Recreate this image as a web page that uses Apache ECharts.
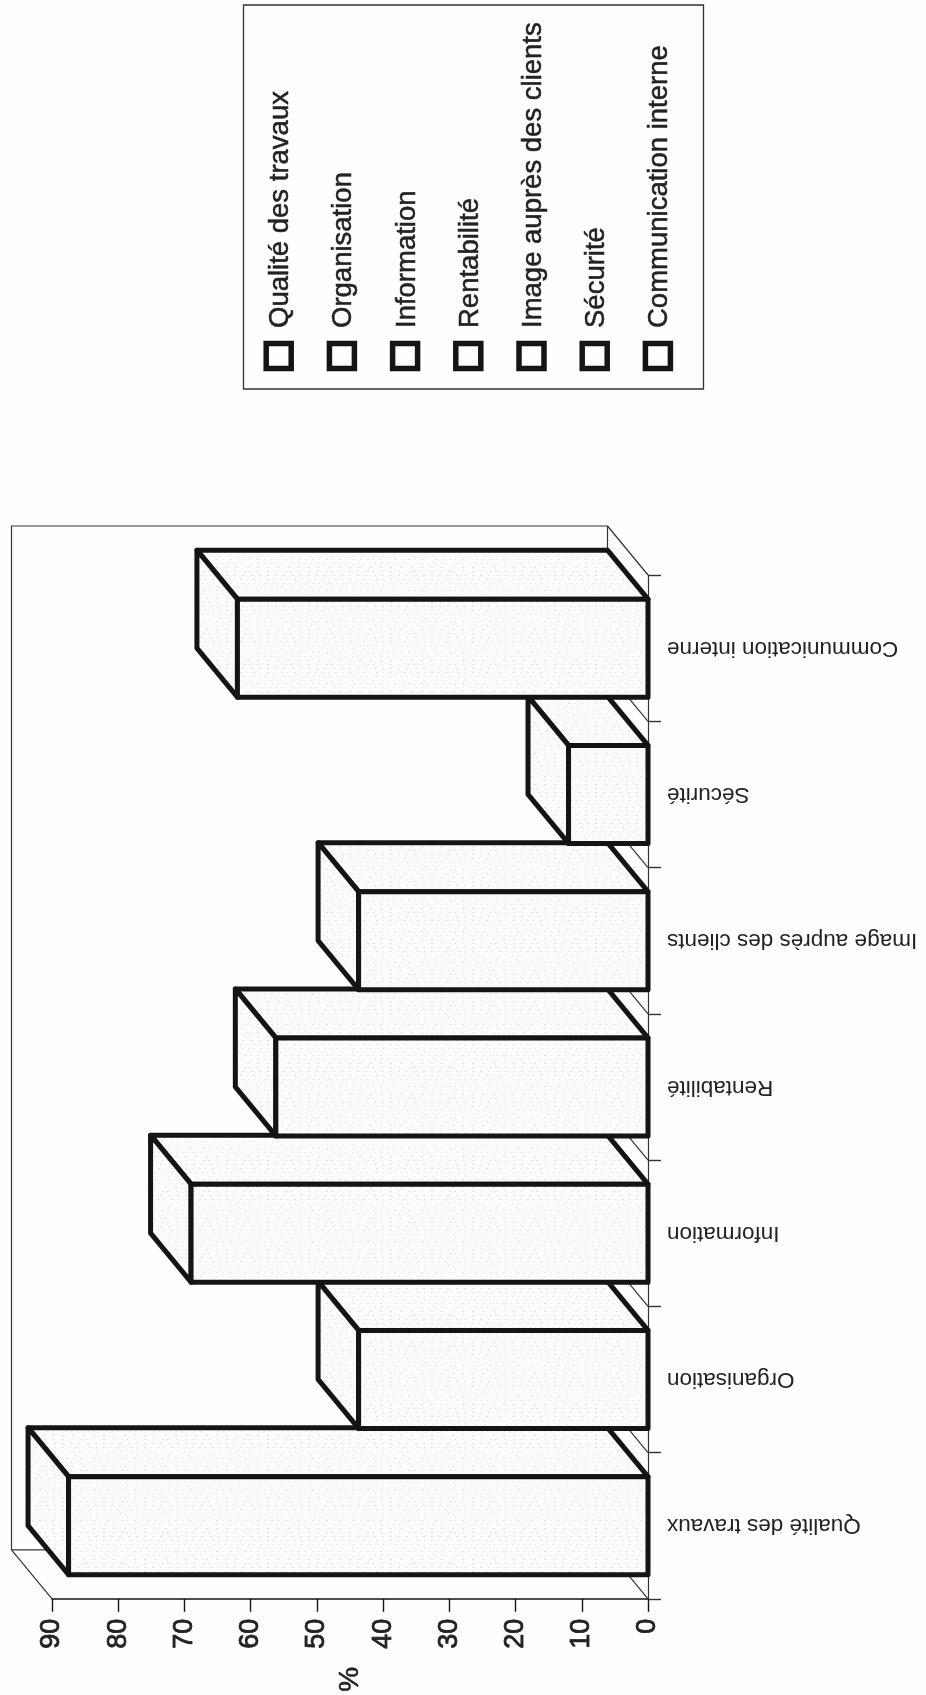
<!DOCTYPE html>
<html><head><meta charset="utf-8">
<style>html,body{margin:0;padding:0;background:#fefefe}#c{width:926px;height:1695px}</style>
<script src="https://cdn.jsdelivr.net/npm/echarts@6/dist/echarts.min.js"></script>
</head><body><div id="c"></div>
<script>
const categories = ['Qualité des travaux','Organisation','Information','Rentabilité','Image auprès des clients','Sécurité','Communication interne'];
const values = [87.5, 43.7, 69, 56.2, 43.7, 12, 62];
const valueMax = 90, valueStep = 10;
const axisName = '%';

const INK = '#141414', THIN = '#333333';
const DX = -40.5, DY = -49;
const FONT = '"Liberation Sans", Arial, sans-serif';

// faint scanned-paper speckle used as the bar fill
function speckle() {
  const W = 41, H = 31;
  const t = document.createElement('canvas'); t.width = W; t.height = H;
  const g = t.getContext('2d');
  g.fillStyle = '#fbfbfb'; g.fillRect(0, 0, W, H);
  g.fillStyle = '#e2e2e2';
  for (let y = 1; y < H; y += 4) for (let x = (y * 11) % 7; x < W; x += 6 + (y % 5)) g.fillRect(x, y, 1 + (x % 2), 1);
  return { image: t, repeat: 'repeat' };
}
const barFill = speckle();

function poly(points, fill, lw, color) {
  return { type: 'polygon', shape: { points }, style: { fill, stroke: color, lineWidth: lw, lineJoin: 'round' } };
}
function seg(a, b) {
  return { type: 'line', shape: { x1: a[0], y1: a[1], x2: b[0], y2: b[1] }, style: { stroke: THIN, lineWidth: 1.2 } };
}

function renderFrame(params, api) {
  const band = api.size([0, 1])[1];
  const o = api.coord([0, 0]);
  const far = api.coord([valueMax, 0]);
  const yb = o[1] + band / 2;
  const yt = yb - band * categories.length;
  const kids = [poly([[far[0] + DX, yb + DY], [far[0] + DX, yt + DY], [o[0] + DX, yt + DY], [o[0] + DX, yb + DY]], 'transparent', 1.2, THIN),
    seg([far[0], yb], [far[0] + DX, yb + DY])];
  for (let i = 0; i <= categories.length; i++) {
    const y = yb - band * i;
    kids.push(seg([o[0], y], [o[0] + DX, y + DY]));
  }
  return { type: 'group', children: kids };
}

function renderBar(params, api) {
  const c = api.value(0), v = api.value(1);
  const base = api.coord([0, c]), end = api.coord([v, c]);
  const h = api.size([0, 1])[1] * 0.67;
  const t = base[1] - h / 2, b = base[1] + h / 2;
  const x0 = base[0], x1 = end[0];
  return { type: 'group', children: [
    poly([[x0, t], [x1, t], [x1 + DX, t + DY], [x0 + DX, t + DY]], barFill, 5, INK),
    poly([[x1, t], [x1, b], [x1 + DX, b + DY], [x1 + DX, t + DY]], barFill, 5, INK),
    poly([[x0, t], [x1, t], [x1, b], [x0, b]], barFill, 5, INK)
  ] };
}

// legend, turned a quarter turn like the rest of the page
const legendGraphics = [{ type: 'rect', shape: { x: 243.5, y: 5, width: 460, height: 384 }, style: { fill: 'transparent', stroke: '#333', lineWidth: 1.3 } }];
categories.forEach((name, i) => {
  const cx = 278.7 + i * 63.2;
  legendGraphics.push({ type: 'rect', shape: { x: cx - 12.5, y: 343.5, width: 25, height: 25 }, style: { fill: '#fdfdfd', stroke: INK, lineWidth: 5.5 } });
  legendGraphics.push({ type: 'text', x: cx + 2, y: 328, rotation: Math.PI / 2,
    style: { text: name, font: '27.5px ' + FONT, fill: '#222', stroke: '#222', lineWidth: 0.5, textAlign: 'left', textVerticalAlign: 'middle' } });
});

const chart = echarts.init(document.getElementById('c'), null, { renderer: 'canvas' });
chart.setOption({
  animation: false,
  backgroundColor: '#fefefe',
  grid: { left: 52, right: 278, top: 575, bottom: 93 },
  xAxis: {
    type: 'value', inverse: true, min: 0, max: valueMax, interval: valueStep,
    name: axisName, nameLocation: 'middle', nameGap: 68, nameRotate: 90,
    nameTextStyle: { fontFamily: FONT, fontSize: 28, color: '#222', textBorderColor: '#222', textBorderWidth: 0.6 },
    splitLine: { show: false },
    axisLine: { show: true, lineStyle: { color: INK, width: 1.6 } },
    axisTick: { show: true, length: 13, lineStyle: { color: INK, width: 1.4 } },
    axisLabel: { rotate: 90, margin: 20, fontFamily: FONT, fontSize: 27, color: '#222', textBorderColor: '#222', textBorderWidth: 0.8 }
  },
  yAxis: {
    type: 'category', data: categories, position: 'right',
    axisLine: { show: true, onZero: false, lineStyle: { color: THIN, width: 1.2 } },
    axisTick: { show: true, length: 13, lineStyle: { color: THIN, width: 1.4 } },
    axisLabel: { rotate: 180, margin: 19, fontFamily: FONT, fontSize: 22.5, color: '#222' }
  },
  graphic: legendGraphics,
  series: [
    { type: 'custom', name: 'frame', coordinateSystem: 'cartesian2d', silent: true, clip: false, renderItem: renderFrame, data: [[0, 0]], encode: { x: 0, y: 1 }, z: 1 },
    { type: 'custom', name: '%', coordinateSystem: 'cartesian2d', clip: false, renderItem: renderBar,
      data: values.map((v, i) => [i, v]), encode: { x: 1, y: 0 }, z: 2 }
  ]
});
</script></body></html>
